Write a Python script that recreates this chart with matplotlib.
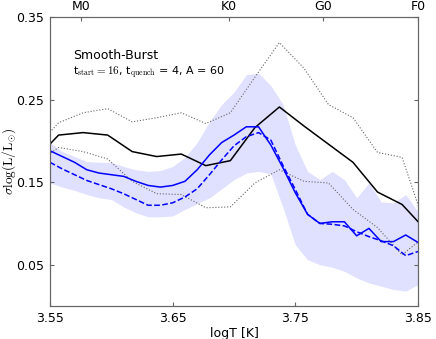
import matplotlib
matplotlib.use("Agg")
import matplotlib.pyplot as plt

plt.rcParams["mathtext.fontset"] = "cm"
plt.rcParams["font.family"] = "DejaVu Sans"

# coarse grid (0.02 dex) for the black reference curves
logt_coarse = [3.537, 3.557, 3.577, 3.597, 3.617, 3.637, 3.657, 3.677, 3.697,
               3.717, 3.737, 3.757, 3.777, 3.797, 3.817, 3.837, 3.857]
black_mid = [0.176, 0.207, 0.210, 0.207, 0.187, 0.181, 0.184, 0.170, 0.176,
             0.216, 0.241, 0.218, 0.196, 0.174, 0.138, 0.123, 0.091]
black_hi = [0.189, 0.222, 0.234, 0.239, 0.223, 0.228, 0.234, 0.221, 0.234,
            0.277, 0.319, 0.288, 0.244, 0.228, 0.186, 0.180, 0.092]
black_lo = [0.171, 0.192, 0.187, 0.178, 0.151, 0.136, 0.135, 0.119, 0.120,
            0.149, 0.165, 0.151, 0.149, 0.117, 0.095, 0.062, 0.086]

# fine grid (0.01 dex) for the model curves
logt_fine = [3.55, 3.56, 3.57, 3.58, 3.59, 3.60, 3.61, 3.62, 3.63, 3.64, 3.65,
             3.66, 3.67, 3.68, 3.69, 3.70, 3.71, 3.72, 3.73, 3.74, 3.75, 3.76,
             3.77, 3.78, 3.79, 3.80, 3.81, 3.82, 3.83, 3.84, 3.85]
model_solid = [0.188, 0.181, 0.174, 0.165, 0.161, 0.159, 0.157, 0.151, 0.146,
               0.144, 0.146, 0.151, 0.165, 0.183, 0.198, 0.207, 0.217, 0.217,
               0.195, 0.167, 0.137, 0.111, 0.100, 0.102, 0.102, 0.085, 0.094,
               0.078, 0.078, 0.086, 0.077]
model_dashed = [0.174, 0.166, 0.159, 0.152, 0.147, 0.142, 0.136, 0.129, 0.122,
                0.122, 0.125, 0.132, 0.142, 0.159, 0.177, 0.194, 0.205, 0.210,
                0.201, 0.170, 0.141, 0.111, 0.100, 0.099, 0.097, 0.090, 0.084,
                0.079, 0.073, 0.061, 0.066]
band_hi = [0.198, 0.187, 0.181, 0.175, 0.174, 0.174, 0.169, 0.165, 0.163,
           0.164, 0.169, 0.180, 0.198, 0.223, 0.244, 0.259, 0.280, 0.282,
           0.267, 0.244, 0.195, 0.163, 0.153, 0.163, 0.153, 0.131, 0.149,
           0.126, 0.125, 0.135, 0.114]
band_lo = [0.149, 0.144, 0.140, 0.135, 0.131, 0.129, 0.120, 0.113, 0.108,
           0.108, 0.109, 0.117, 0.124, 0.131, 0.142, 0.153, 0.161, 0.163,
           0.160, 0.119, 0.074, 0.056, 0.050, 0.047, 0.042, 0.034, 0.028,
           0.024, 0.020, 0.018, 0.026]

spec_pos = [3.575, 3.696, 3.7725, 3.85]
spec_labels = ["M0", "K0", "G0", "F0"]

fig = plt.figure(figsize=(4.36, 3.39), dpi=100)
ax = fig.add_axes([0.1147, 0.0973, 0.8440, 0.8526])

ax.fill_between(logt_fine, band_lo, band_hi, color="blue", alpha=0.12, lw=0)
ax.plot(logt_coarse, black_hi, color="0.4", lw=0.8, ls=":")
ax.plot(logt_coarse, black_lo, color="0.4", lw=0.8, ls=":")
ax.plot(logt_coarse, black_mid, color="black", lw=1.1)
ax.plot(logt_fine, model_solid, color="blue", lw=1.1)
ax.plot(logt_fine, model_dashed, color="blue", lw=1.1, ls="--")

ax.set_xlim(3.55, 3.85)
ax.set_ylim(0.0, 0.35)
ax.set_xticks([3.55, 3.65, 3.75, 3.85])
ax.set_xticklabels(["3.55", "3.65", "3.75", "3.85"])
ax.set_yticks([0.05, 0.15, 0.25, 0.35])
ax.set_yticklabels(["0.05", "0.15", "0.25", "0.35"])
ax.tick_params(direction="in", length=3, labelsize=9, right=True, pad=4,
               color="0.4")
for sp in ax.spines.values():
    sp.set_color("0.4")

ax.set_xlabel("logT [K]", fontsize=9, labelpad=2)
ax.set_ylabel(r"$\sigma\log(\mathrm{L/L_{\odot}})$", fontsize=9.5)
ax.yaxis.set_label_coords(-0.086, 0.5)

top = ax.twiny()
top.set_xlim(ax.get_xlim())
top.set_xticks(spec_pos)
top.set_xticklabels(spec_labels)
top.tick_params(direction="in", length=3, labelsize=9, pad=3, color="0.4")
for sp in top.spines.values():
    sp.set_color("0.4")

ax.text(0.062, 0.868, "Smooth-Burst", transform=ax.transAxes, fontsize=9,
        va="center")
ax.text(0.062, 0.806,
        r"t$_{\rm start}=16$, t$_{\rm quench}$ = 4, A = 60",
        transform=ax.transAxes, fontsize=8, va="center")

fig.savefig("out.png", dpi=100)
